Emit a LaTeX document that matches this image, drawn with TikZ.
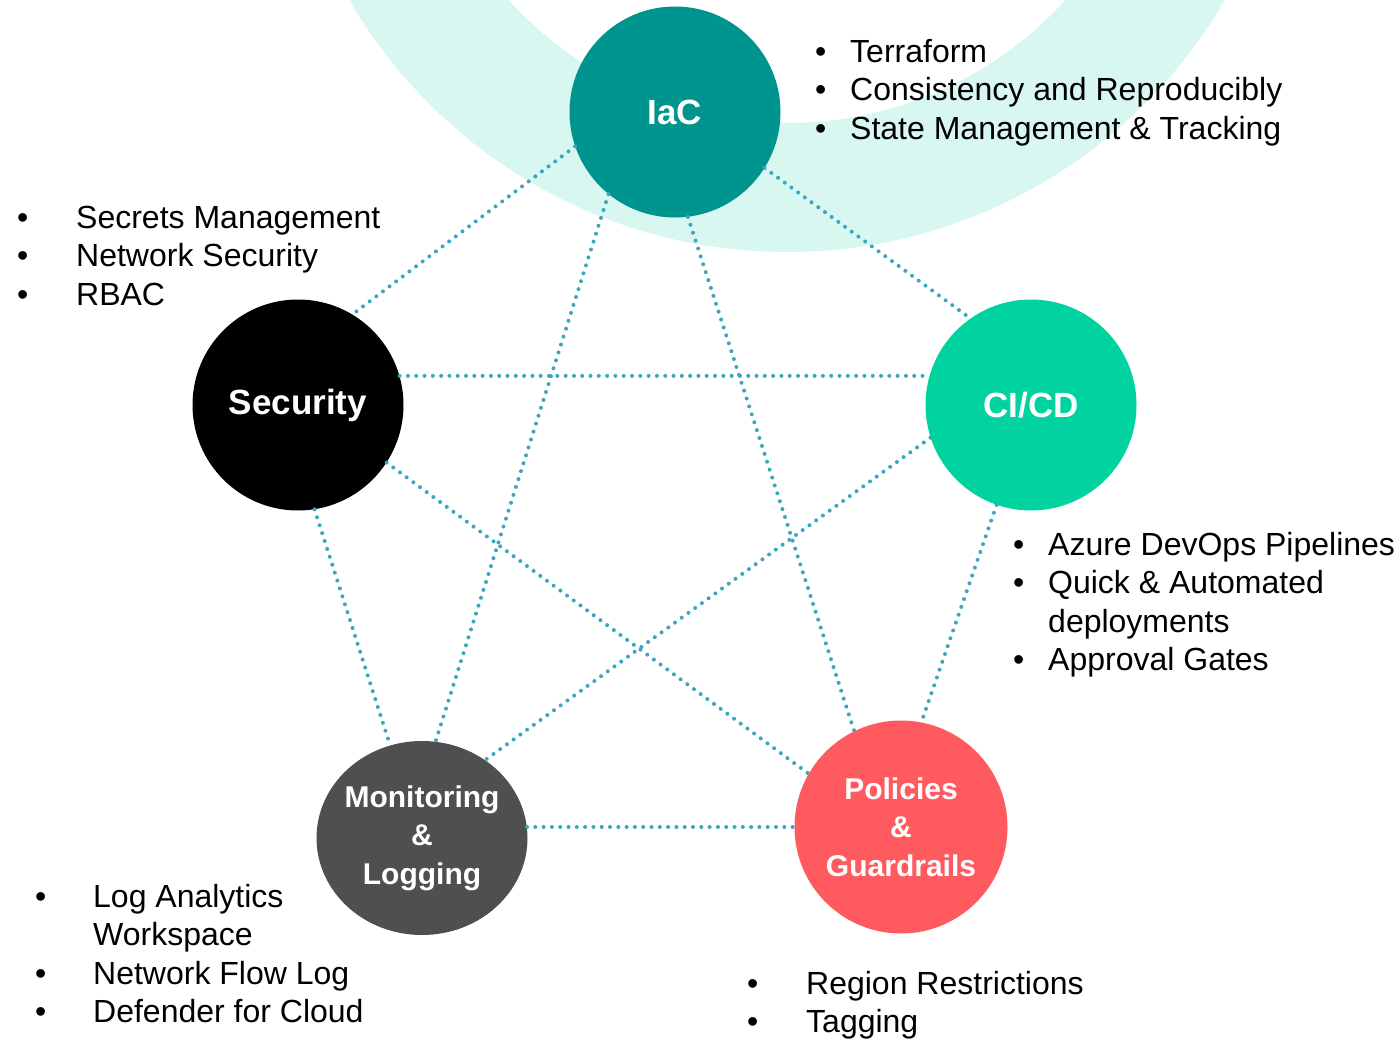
\documentclass[tikz,border=0pt]{standalone}
\usepackage{fontspec}
\setmainfont{Liberation Sans}
\usetikzlibrary{positioning, shapes.geometric}

\definecolor{ringmint}{HTML}{D8F7F0}
\definecolor{iacteal}{HTML}{00948F}
\definecolor{cicdgreen}{HTML}{00D3A0}
\definecolor{mongrey}{HTML}{4F4F4F}
\definecolor{polred}{HTML}{FF5A5F}
\definecolor{dotblue}{HTML}{3AA6BF}

\newcommand{\bul}[2]{\makebox[#1pt][l]{\textbullet}#2}
\newcommand{\nobul}[2]{\hspace*{#1pt}#2}

\tikzset{
  hub/.style={circle, inner sep=0pt, minimum size=211pt, align=center,
    text=white, font=\bfseries\fontsize{30}{38.5}\selectfont},
  link/.style={draw=dotblue, line width=4pt, line cap=round,
    dash pattern=on 0pt off 8.3pt},
  notes/.style={anchor=north west, inner sep=0pt, align=left,
    font=\fontsize{32}{38.5}\selectfont},
}

\begin{document}
\begin{tikzpicture}[x=1pt, y=1pt, node distance=2cm, on grid]
  \useasboundingbox (0,0) rectangle (1399,-1038);

  % mint band behind IaC
  \begin{scope}
    \clip (0,0) rectangle (1399,-1038);
    \fill[ringmint, even odd rule] (787,254) circle (506) (787,254) circle (377);
  \end{scope}

  % the five pillars
  \node[hub, fill=iacteal, font=\bfseries\fontsize{35}{40}\selectfont] (iac) at (675,-112) {IaC};
  \node[hub, fill=black, font=\bfseries\fontsize{35}{40}\selectfont] (sec) [below left=293pt and 377pt of iac] {Security};
  \node[hub, fill=cicdgreen, font=\bfseries\fontsize{35}{40}\selectfont] (cicd) [below right=293pt and 356pt of iac] {CI/CD};
  \node[hub, ellipse, inner sep=-12pt, fill=mongrey, minimum width=211pt, minimum height=194pt] (mon) [below right=433pt and 124pt of sec] {Monitoring\\\&\\Logging};
  \node[hub, fill=polred, minimum size=213pt] (pol) [below left=422pt and 130pt of cicd] {Policies\\\&\\Guardrails};

  \path[link]
  (iac.199) edge (sec.59)
  (iac.328) edge (cicd.125)
  (iac.231) edge (mon.82)
  (iac.277) edge (pol.116)
  (sec.16) edge (cicd.164)
  (sec.327) edge (pol.150)
  (sec.279) edge (mon.109)
  (cicd.198) edge (mon.51)
  (cicd.251) edge (pol.79)
  (mon.6) edge (pol.180);

  % bullet notes
  \node[notes] (iacnotes) at (815,-35) {\strut\bul{35}{Terraform}\\
    \bul{35}{Consistency and Reproducibly}\\
    \bul{35}{State Management \& Tracking}};
  \node[notes] (secnotes) at (17,-201) {\strut\bul{59}{Secrets Management}\\
    \bul{59}{Network Security}\\
    \bul{59}{RBAC}};
  \node[notes] (cicdnotes) at (1013,-528) {\strut\bul{35}{Azure DevOps Pipelines}\\
    \bul{35}{Quick \& Automated}\\
    \nobul{35}{deployments}\\
    \bul{35}{Approval Gates}};
  \node[notes] (monnotes) at (35,-880) {\strut\bul{58}{Log Analytics}\\
    \nobul{58}{Workspace}\\
    \bul{58}{Network Flow Log}\\
    \bul{58}{Defender for Cloud}};
  \node[notes] (polnotes) at (747,-967) {\strut\bul{59}{Region Restrictions}\\
    \bul{59}{Tagging}};
\end{tikzpicture}
\end{document}
